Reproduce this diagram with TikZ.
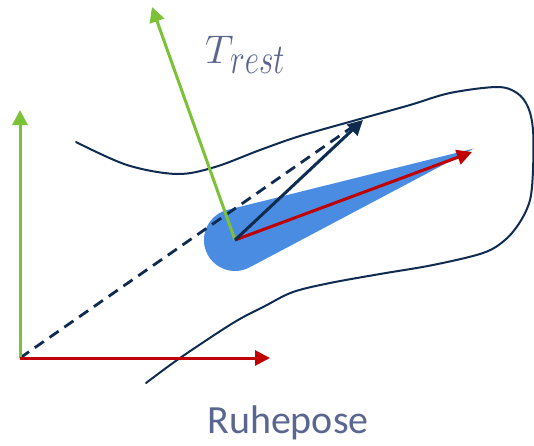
\RequirePackage{fix-cm}
\documentclass[tikz,border=0pt]{standalone}
\usepackage{fontspec}
\newfontfamily\carlito{Carlito}
\usetikzlibrary{arrows.meta}
\definecolor{navy}{HTML}{0F2B50}
\definecolor{axgreen}{HTML}{7CC236}
\definecolor{axred}{HTML}{C00000}
\definecolor{coneblue}{HTML}{4A8CE2}
\definecolor{txtgray}{HTML}{5A6690}
\tikzset{
  axis/.style={line width=3pt,-{Triangle[length=15pt,width=15pt]}},
  outline/.style={navy,line width=2pt},
}
\begin{document}
\begin{tikzpicture}[x=1pt,y=-1pt]
\useasboundingbox (0,0) rectangle (534,445);
\coordinate (O) at (20,358);
\coordinate (P) at (235,240);
\coordinate (OX) at (270,358);
\coordinate (OY) at (20,110);
\coordinate (PX) at (472,152);
\coordinate (PY) at (152,7);
\coordinate (PN) at (363,120);
% cone
\fill[coneblue] (249.5,267.4) -- (474,148.5) -- (227.5,209.9)
  arc[start angle=-103.93,end angle=-297.93,radius=31] -- cycle;
% outline curve
\draw[outline,line cap=round] plot[smooth,tension=0.55] coordinates {
 (76,142) (127,165) (177,174) (215,167) (260,150) (300,136) (360,119)
 (410,105) (450,93) (497,87) (517,93) (528,107) (533,130) (533,170)
 (530,200) (520,222) (505,240) (483,253) (433,265) (380,274) (330,283)
 (293,292) (265,306) (233,323) (180,358) (146,383)};
% dashed
\draw[navy,line width=2.8pt,dash pattern=on 11pt off 7pt] (O) -- (358,123);
% world axes
\draw[axis,axgreen] (O) -- (OY);
\draw[axis,axred] (O) -- (OX);
% local axes
\draw[axis,axgreen] (P) -- (PY);
\draw[axis,axred] (P) -- (PX);
\draw[axis,navy] (P) -- (PN);
% labels
\node[txtgray,anchor=base west,inner sep=0pt] (T) at (205,63)
  {\fontsize{40}{44}\selectfont$T$};
\node[txtgray,anchor=base west,inner sep=0pt] (rest) at (230,73)
  {\scalebox{0.92}[1.25]{\fontsize{34}{38}\selectfont$rest$}};
\node[txtgray,anchor=base,inner sep=0pt] (lbl) at (288,433)
  {\carlito\fontsize{40}{44}\selectfont Ruhepose};
\end{tikzpicture}
\end{document}
